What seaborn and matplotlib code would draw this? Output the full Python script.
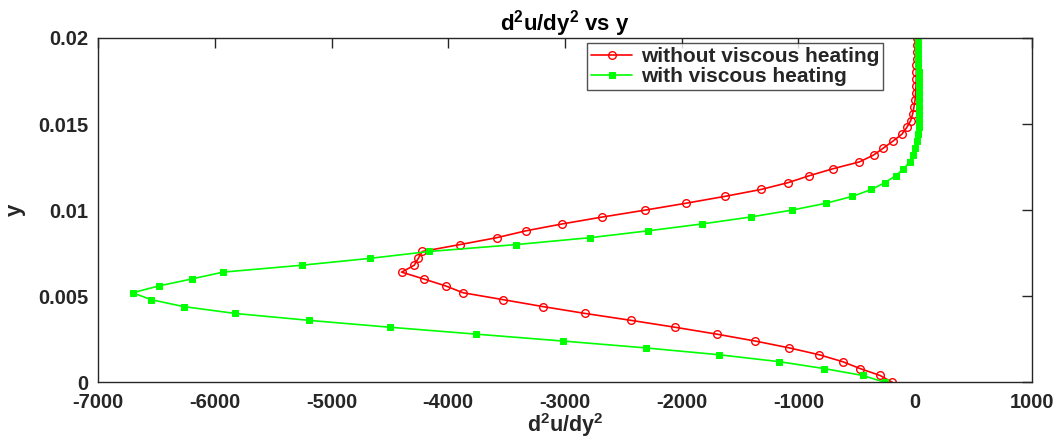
import numpy as np
import pandas as pd
import matplotlib
matplotlib.use("Agg")
import matplotlib.pyplot as plt
import seaborn as sns

y_vals = [0.0, 0.0004, 0.0008, 0.0012, 0.0016, 0.002, 0.0024, 0.0028, 0.0032, 0.0036,
          0.004, 0.0044, 0.0048, 0.0052, 0.0056, 0.006, 0.0064, 0.0068, 0.0072, 0.0076,
          0.008, 0.0084, 0.0088, 0.0092, 0.0096, 0.01, 0.0104, 0.0108, 0.0112, 0.0116,
          0.012, 0.0124, 0.0128, 0.0132, 0.0136, 0.014, 0.0144, 0.0148, 0.0152, 0.0156,
          0.016, 0.0164, 0.0168, 0.0172, 0.0176, 0.018, 0.0184, 0.0188, 0.0192, 0.0196, 0.02]

without_vh = [-194, -300, -471, -620, -820, -1077, -1371, -1700, -2057, -2434,
              -2826, -3189, -3529, -3872, -4023, -4209, -4400, -4292, -4257, -4223,
              -3900, -3585, -3334, -3023, -2680, -2314, -1963, -1629, -1320, -1086,
              -906, -705, -477, -355, -272, -191, -114, -71, -37, -20,
              -9, 0, 5, 8, 10, 11, 12, 13, 14, 14, 15]

with_vh = [-257, -448, -780, -1163, -1677, -2308, -3020, -3763, -4500, -5194,
           -5826, -6268, -6546, -6705, -6480, -6200, -5931, -5257, -4671, -4163,
           -3420, -2786, -2286, -1823, -1410, -1057, -763, -537, -374, -257,
           -165, -100, -43, -15, 2, 18, 26, 30, 32, 33, 34, 34, 33, 32,
           31, 30, 28, 27, 26, 25, 24]

df = pd.DataFrame({
    'y': y_vals * 2,
    'd2u': without_vh + with_vh,
    'case': ['without viscous heating'] * len(y_vals) + ['with viscous heating'] * len(y_vals),
})

sns.set_style("white")
plt.rcParams['font.family'] = ['Liberation Sans', 'DejaVu Sans']
plt.rcParams['font.weight'] = 'bold'
plt.rcParams['axes.labelweight'] = 'bold'
plt.rcParams['axes.titleweight'] = 'bold'
plt.rcParams['axes.unicode_minus'] = False
plt.rcParams['mathtext.default'] = 'regular'
axis_col = '#262626'

fig = plt.figure(figsize=(10.62, 4.41), dpi=100)
ax = fig.add_axes([0.0925, 0.133, 0.879, 0.781])

pal = {'without viscous heating': '#ff0000', 'with viscous heating': '#00ff00'}
for case, sub in df.groupby('case', sort=False):
    if case == 'without viscous heating':
        mk = dict(marker='o', markersize=5.5, markerfacecolor='none',
                  markeredgecolor=pal[case], markeredgewidth=1.0)
    else:
        mk = dict(marker='s', markersize=4, markerfacecolor=pal[case],
                  markeredgecolor=pal[case])
    sns.lineplot(data=sub, x='d2u', y='y', sort=False, estimator=None,
                 color=pal[case], linewidth=1.2, label=case, ax=ax, **mk)

ax.set_xlim(-7000, 1000)
ax.set_ylim(0, 0.02)
ax.set_xticks(np.arange(-7000, 1001, 1000))
ax.set_yticks([0, 0.005, 0.01, 0.015, 0.02])
ax.set_yticklabels(['0', '0.005', '0.01', '0.015', '0.02'])
ax.tick_params(direction='in', length=7, width=1, colors=axis_col,
               top=True, right=True, labelsize=14.5)
ax.tick_params(axis='x', pad=8)
ax.tick_params(axis='y', pad=7)
for lab in ax.get_xticklabels() + ax.get_yticklabels():
    lab.set_fontweight('bold')
    lab.set_color(axis_col)
for sp in ax.spines.values():
    sp.set_color(axis_col)
    sp.set_linewidth(1)

ax.set_xlabel('d$^2$u/dy$^2$', fontsize=15.5, color=axis_col, labelpad=-1)
ax.set_ylabel('y', fontsize=16, color=axis_col, labelpad=9)
ax.set_title('d$^2$u/dy$^2$ vs y', fontsize=16, color='black', pad=5)

leg = ax.legend(loc='upper right', bbox_to_anchor=(0.841, 0.985),
                prop={'size': 15, 'weight': 'bold'},
                frameon=True, fancybox=False, edgecolor=axis_col, handlelength=2.0,
                borderpad=0.2, labelspacing=0.05, handletextpad=0.4, borderaxespad=0)
leg.get_frame().set_linewidth(1)

fig.savefig('out.png', dpi=100)
